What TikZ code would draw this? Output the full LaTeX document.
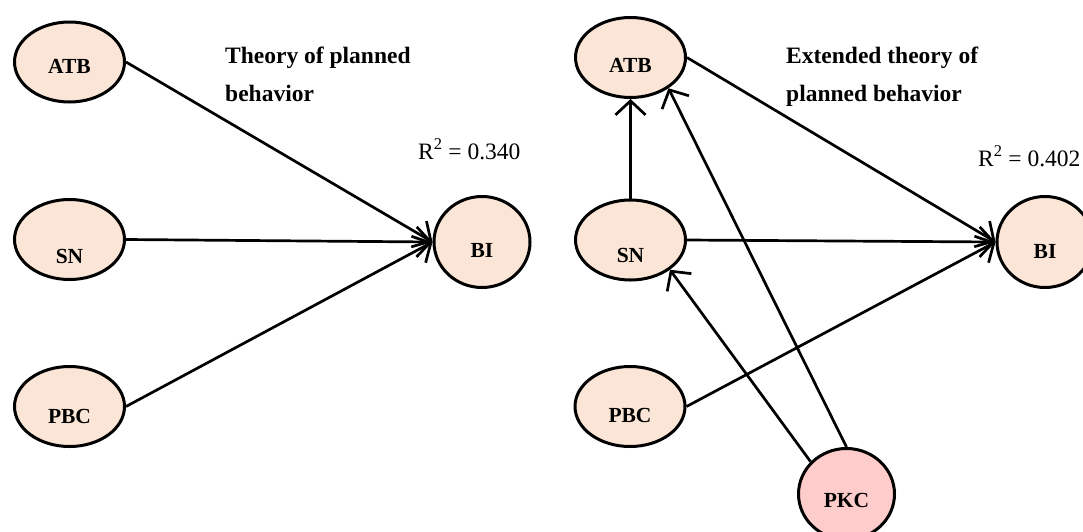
\documentclass[tikz,border=0pt]{standalone}
\usepackage{fontspec}
\setmainfont{Liberation Serif}
\usetikzlibrary{shapes.geometric,arrows.meta}

\definecolor{peach}{RGB}{251,229,214}
\definecolor{rose}{RGB}{255,204,204}

\tikzset{
  var/.style={ellipse, draw, line width=3pt, fill=peach, inner sep=0pt,
    minimum width=110pt, minimum height=80pt},
  dv/.style={var, minimum width=96pt, minimum height=91pt},
  lab/.style={font=\fontsize{21.5}{25}\selectfont\bfseries, inner sep=0pt},
  arr/.style={line width=2.7pt, -{Straight Barb[length=14pt,width=30pt]}},
  heading/.style={font=\fontsize{23.5}{38}\selectfont\bfseries, align=left,
    anchor=north west, inner sep=0pt},
  rsq/.style={font=\fontsize{23.5}{28}\selectfont, anchor=base west, inner sep=0pt}
}

\begin{document}
\begin{tikzpicture}[x=1pt,y=-1pt]
  \useasboundingbox (0,0) rectangle (1083,531);

  % theory of planned behavior
  \node[var, label={[lab,yshift=-4pt]center:ATB}] (atb1) at (69.5,62) {};
  \node[var, label={[lab,yshift=-17pt]center:SN}] (sn1) at (69.5,239.5) {};
  \node[var, label={[lab,yshift=-10pt]center:PBC}] (pbc1) at (69.5,406.5) {};
  \node[dv, label={[lab,yshift=-8pt]center:BI}] (bi1) at (482,242) {};
  \node[heading] (tpb) at (225,47) {Theory of planned\\behavior};
  \node[rsq] (r1) at (418,159) {R\textsuperscript{2} = 0.340};
  \path[arr]
    (atb1.east) edge (bi1.west)
    (sn1.east) edge (bi1.west)
    (pbc1.east) edge (bi1.west);

  % extended theory
  \node[var, label={[lab,yshift=-8pt]center:ATB}] (atb2) at (630.5,57.5) {};
  \node[var, label={[lab,yshift=-15pt]center:SN}] (sn2) at (630.5,240) {};
  \node[var, label={[lab,yshift=-9pt]center:PBC}] (pbc2) at (630,406.5) {};
  \node[dv, label={[lab,yshift=-9pt]center:BI}] (bi2) at (1045,242) {};
  \node[dv, fill=rose, label={[lab,yshift=-6pt]center:PKC}] (pkc) at (846.5,494) {};
  \node[heading] (etpb) at (786,47) {Extended theory of\\planned behavior};
  \node[rsq] (r2) at (978,166) {R\textsuperscript{2} = 0.402};
  \path[arr]
    (sn2.north) edge (atb2.south)
    (atb2.east) edge (bi2.west)
    (sn2.east) edge (bi2.west)
    (pbc2.east) edge (bi2.west)
    (pkc.north) edge (atb2.-39)
    (pkc.138) edge (sn2.-37);
\end{tikzpicture}
\end{document}
